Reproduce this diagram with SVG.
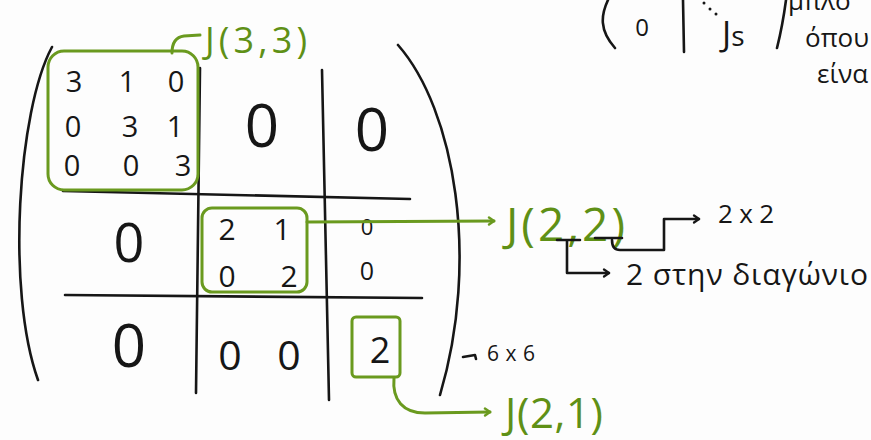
<svg xmlns="http://www.w3.org/2000/svg" width="871" height="440" viewBox="0 0 871 440">
<defs>
<style>
.ink{fill:none;stroke:#161616;stroke-width:2.6;stroke-linecap:round;stroke-linejoin:round}
.grn{fill:none;stroke:#6a9a1f;stroke-width:3;stroke-linecap:round;stroke-linejoin:round}
.t{font-family:"Open Sans","DejaVu Sans",sans-serif;fill:#161616;text-anchor:middle}
.tl{font-family:"Open Sans","DejaVu Sans",sans-serif;fill:#161616}
.g{font-family:"Open Sans","DejaVu Sans",sans-serif;fill:#5f9016}
</style>
<marker id="ag" markerWidth="10" markerHeight="10" refX="7" refY="5" orient="auto" markerUnits="userSpaceOnUse">
<path d="M2,1.5 L7,5 L2,8.5" fill="none" stroke="#6a9a1f" stroke-width="2.4" stroke-linecap="round" stroke-linejoin="round"/>
</marker>
<marker id="ak" markerWidth="10" markerHeight="10" refX="7" refY="5" orient="auto" markerUnits="userSpaceOnUse">
<path d="M2,1.5 L7,5 L2,8.5" fill="none" stroke="#161616" stroke-width="2.2" stroke-linecap="round" stroke-linejoin="round"/>
</marker>
</defs>
<rect width="871" height="440" fill="#fdfdfd"/>

<g id="partial-top">
<path class="ink" d="M608,0 C601,15 599,30 615,48"/>
<text class="t" x="642" y="36" font-size="24">0</text>
<path class="ink" d="M683,0 L684,52"/>
<circle cx="704" cy="3" r="1.5" fill="#161616"/>
<circle cx="710" cy="9" r="1.5" fill="#161616"/>
<circle cx="716" cy="14" r="1.5" fill="#161616"/>
<text class="tl" x="722" y="46" font-size="34">J<tspan font-size="28">s</tspan></text>
<path class="ink" d="M786,0 C784,15 781,32 777,48"/>
<text class="tl" x="788" y="10" font-size="26">μπλο</text>
<text class="tl" x="805" y="47" font-size="26">όπου</text>
<text class="tl" x="817" y="83" font-size="26">είνα</text>
</g>

<g id="matrix">
<path class="ink" d="M52,47 C18,110 6,290 38,380"/>
<path class="ink" d="M398,45 C455,110 480,260 440,395"/>
<path class="ink" d="M200,68 L196,393"/>
<path class="ink" d="M322,70 L329,400"/>
<path class="ink" d="M63,191 L410,199"/>
<path class="ink" d="M65,295 L422,298"/>
<text class="t" x="262" y="147" font-size="60">0</text>
<text class="t" x="372" y="151" font-size="60">0</text>
<text class="t" x="129" y="262" font-size="54">0</text>
<text class="t" x="367" y="235" font-size="22">0</text>
<text class="t" x="367" y="280" font-size="25">0</text>
<text class="t" x="129" y="367" font-size="60">0</text>
<text class="t" x="230" y="370" font-size="41">0</text>
<text class="t" x="289" y="370" font-size="41">0</text>
</g>

<g id="J33">
<rect class="grn" x="48" y="51" width="150" height="139" rx="16"/>
<g font-size="29">
<text class="t" x="74" y="92">3</text>
<text class="t" x="127" y="92">1</text>
<text class="t" x="176" y="92">0</text>
<text class="t" x="73" y="137">0</text>
<text class="t" x="130" y="137">3</text>
<text class="t" x="175" y="137">1</text>
<text class="t" x="72" y="176">0</text>
<text class="t" x="131" y="176">0</text>
<text class="t" x="183" y="176">3</text>
</g>
<text class="g" x="205" y="53" font-size="36" textLength="102" lengthAdjust="spacing">J(3,3)</text>
</g>

<g id="J22">
<rect class="grn" x="202" y="208" width="105" height="84" rx="10"/>
<g font-size="30">
<text class="t" x="227" y="240">2</text>
<text class="t" x="282" y="240">1</text>
<text class="t" x="227" y="287">0</text>
<text class="t" x="289" y="287">2</text>
</g>
<text class="g" x="506" y="241" font-size="46" textLength="119" lengthAdjust="spacing">J(2,2)</text>
<text class="tl" x="718" y="223" font-size="26" textLength="56" lengthAdjust="spacing">2x2</text>
<text class="tl" x="626" y="285" font-size="30" textLength="242" lengthAdjust="spacing">2 στην διαγώνιο</text>
</g>

<g id="J21">
<rect class="grn" x="352" y="317" width="48" height="60" rx="4"/>
<text class="t" x="380" y="363" font-size="36">2</text>
<text class="g" x="505" y="428" font-size="42" textLength="98" lengthAdjust="spacing">J(2,1)</text>
</g>

<g id="size">
<text class="tl" x="487" y="361" font-size="21" textLength="48" lengthAdjust="spacing">6x6</text>
</g>

<g id="connectors">
<path class="grn" d="M172,53 C172,42 176,37 184,36 L200,35"/>
<path class="grn" d="M307,222 L494,221" marker-end="url(#ag)"/>
<path class="grn" d="M394,378 C392,400 403,413 425,413 L490,412" marker-end="url(#ag)"/>
<path class="ink" d="M557,240 L580,240 M567,240 L567,273 L609,273" marker-end="url(#ak)"/>
<path class="ink" d="M595,238 L622,238 M612,240 Q612,250 620,250 L664,250 L664,219 L699,219" marker-end="url(#ak)"/>
<path class="ink" d="M463,357 L475,355 L476,359" stroke-width="2"/>
</g>
</svg>
